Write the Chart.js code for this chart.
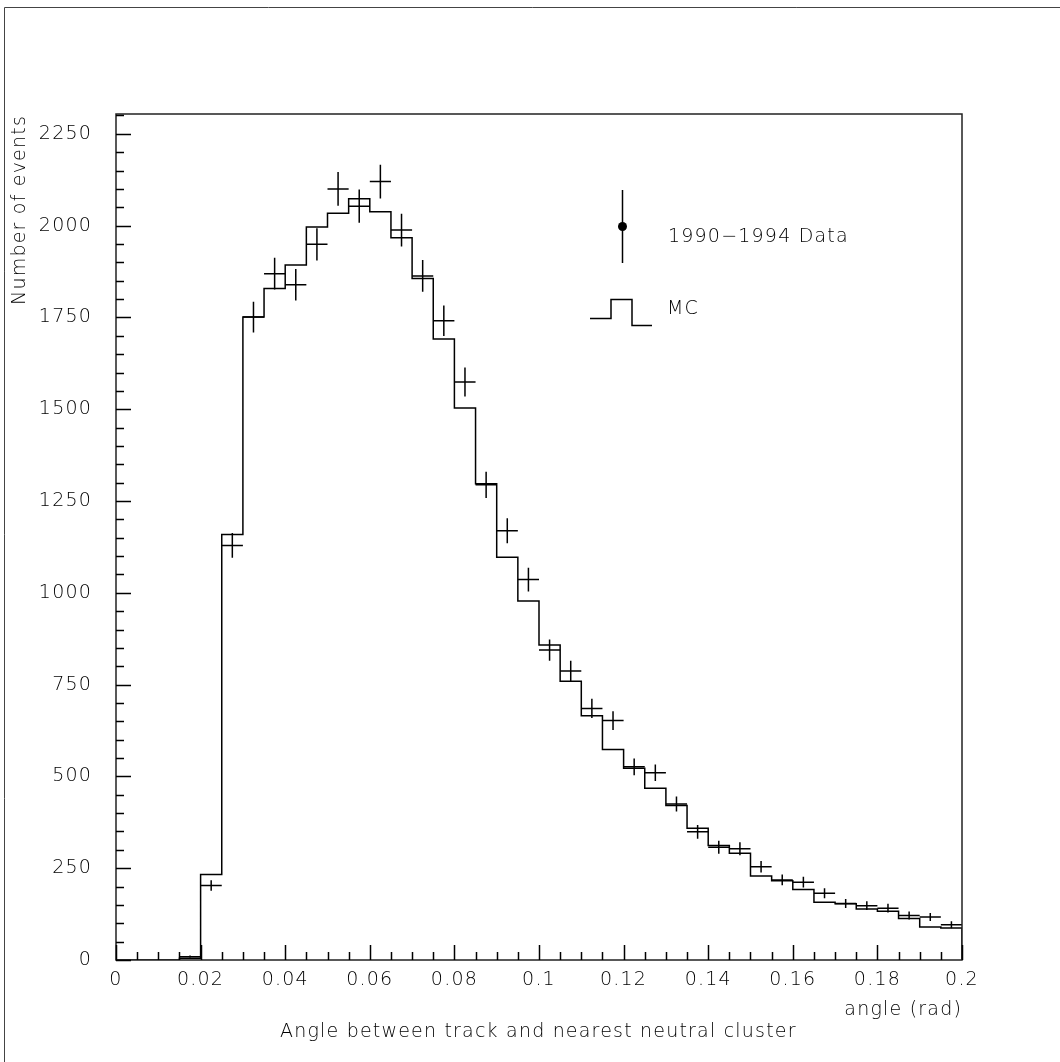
<!DOCTYPE html>
<html lang="en">
  <head>
    <meta charset="UTF-8" />
    <title>Angle between track and nearest neutral cluster</title>
    <style>
      html,
      body {
        margin: 0;
        padding: 0;
        background: #ffffff;
      }
      #chartBox {
        position: relative;
        width: 1060px;
        height: 1062px;
      }
    </style>
  </head>
  <body>
    <div id="chartBox">
      <canvas id="angleChart" width="1060" height="1062"></canvas>
    </div>

    <script src="https://cdn.jsdelivr.net/npm/chart.js@4"></script>
    <script>
      // Histogram binning (rad), 40 bins of 0.005
      const BIN_WIDTH = 0.005;
      const X_MIN = 0;
      const X_MAX = 0.2;
      const Y_MAX = 2304;

      const xTickValues = [0, 0.02, 0.04, 0.06, 0.08, 0.1, 0.12, 0.14, 0.16, 0.18, 0.2];
      const xTickLabels = ["0", "0.02", "0.04", "0.06", "0.08", "0.1", "0.12", "0.14", "0.16", "0.18", "0.2"];
      const yTickValues = [0, 250, 500, 750, 1000, 1250, 1500, 1750, 2000, 2250];
      const yTickLabels = ["0", "250", "500", "750", "1000", "1250", "1500", "1750", "2000", "2250"];

      // MC histogram contents, one per bin
      const mcCounts = [
        0, 0, 0, 5, 233, 1159, 1751, 1829, 1893, 1996,
        2034, 2073, 2038, 1967, 1856, 1691, 1503, 1297, 1097, 978,
        858, 759, 665, 573, 522, 468, 421, 359, 312, 291,
        229, 216, 192, 157, 153, 139, 133, 113, 90, 87,
      ];

      // 1990-1994 data, one per bin (null = empty)
      const dataCounts = [
        null, null, null, 9, 203, 1129, 1751, 1869, 1839, 1949,
        2100, 2053, 2120, 1988, 1863, 1741, 1574, 1294, 1169, 1036,
        844, 787, 685, 652, 526, 510, 425, 349, 307, 303,
        254, 218, 212, 182, 154, 148, 141, 121, 117, 96,
      ];

      const legendLabels = ["1990\u22121994 Data", "MC"];
      const xTitle = "angle (rad)";
      const yTitle = "Number of events";
      const plotCaption = "Angle between track and nearest neutral cluster";

      const FONT = "'DejaVu Sans', 'Liberation Sans', sans-serif";
      const TEXT_FONT = "300 19px " + FONT;
      const SPACING = "1.2px";

      // step histogram: left bin edges, then close at right edge down to 0
      const mcPoints = mcCounts.map((v, i) => ({ x: X_MIN + i * BIN_WIDTH, y: v }));
      mcPoints.push({ x: X_MAX, y: mcCounts[mcCounts.length - 1] });
      mcPoints.push({ x: X_MAX, y: 0 });

      const dataPoints = [];
      dataCounts.forEach((v, i) => {
        if (v !== null) dataPoints.push({ x: X_MIN + (i + 0.5) * BIN_WIDTH, y: v });
      });

      // frame, inward ticks, error crosses, legend, titles
      const pawStyle = {
        id: "pawStyle",
        beforeDraw(chart) {
          // wider letter spacing, closer to the old HIGZ font
          chart.ctx.letterSpacing = SPACING;
        },
        afterDatasetsDraw(chart) {
          const ctx = chart.ctx;
          const a = chart.chartArea;
          const xs = chart.scales.x;
          const ys = chart.scales.y;

          ctx.save();

          // outer page frame (top + left)
          ctx.strokeStyle = "#444";
          ctx.lineWidth = 1;
          ctx.beginPath();
          ctx.moveTo(4.5, 1062);
          ctx.lineTo(4.5, 7.5);
          ctx.lineTo(1060, 7.5);
          ctx.stroke();

          // data points with error bars
          ctx.strokeStyle = "#000";
          ctx.lineWidth = 1.5;
          ctx.beginPath();
          dataPoints.forEach((p) => {
            const err = Math.sqrt(p.y);
            const px = xs.getPixelForValue(p.x);
            const py = ys.getPixelForValue(p.y);
            ctx.moveTo(xs.getPixelForValue(p.x - BIN_WIDTH / 2), py);
            ctx.lineTo(xs.getPixelForValue(p.x + BIN_WIDTH / 2), py);
            ctx.moveTo(px, ys.getPixelForValue(Math.max(0, p.y - err)));
            ctx.lineTo(px, ys.getPixelForValue(p.y + err));
          });
          ctx.stroke();

          // plot box
          ctx.strokeStyle = "#222";
          ctx.lineWidth = 1.5;
          ctx.strokeRect(a.left, a.top, a.right - a.left, a.bottom - a.top);

          // x ticks (major 0.02, minor 0.005), pointing up
          ctx.strokeStyle = "#000";
          ctx.lineWidth = 1.5;
          ctx.beginPath();
          for (let k = 0; k <= 40; k++) {
            const px = Math.round(xs.getPixelForValue(k * BIN_WIDTH)) + 0.5;
            const len = k % 4 === 0 ? 15 : 8;
            ctx.moveTo(px, a.bottom);
            ctx.lineTo(px, a.bottom - len);
          }
          // y ticks (major 250, minor 50), pointing right
          for (let v = 0; v <= Y_MAX; v += 50) {
            const py = Math.round(ys.getPixelForValue(v)) + 0.5;
            const len = v % 250 === 0 ? 15 : 8;
            ctx.moveTo(a.left, py);
            ctx.lineTo(a.left + len, py);
          }
          ctx.stroke();

          // legend: data marker
          ctx.lineWidth = 1.5;
          ctx.beginPath();
          ctx.moveTo(622.5, 190);
          ctx.lineTo(622.5, 263);
          ctx.stroke();
          ctx.fillStyle = "#000";
          ctx.beginPath();
          ctx.arc(622.5, 226.5, 4.5, 0, Math.PI * 2);
          ctx.fill();
          // legend: MC step symbol
          ctx.beginPath();
          ctx.moveTo(590, 318.5);
          ctx.lineTo(611, 318.5);
          ctx.lineTo(611, 299.5);
          ctx.lineTo(632, 299.5);
          ctx.lineTo(632, 325.5);
          ctx.lineTo(652, 325.5);
          ctx.stroke();

          ctx.fillStyle = "#000";
          ctx.font = TEXT_FONT;
          ctx.letterSpacing = SPACING;
          ctx.textBaseline = "middle";
          ctx.textAlign = "left";
          ctx.fillText(legendLabels[0], 668, 237);
          ctx.fillText(legendLabels[1], 667, 309);

          // axis titles
          ctx.textAlign = "right";
          ctx.fillText(xTitle, 962, 1010);
          ctx.textAlign = "left";
          ctx.fillText(plotCaption, 280, 1032);

          ctx.translate(20, 115);
          ctx.rotate(-Math.PI / 2);
          ctx.textAlign = "right";
          ctx.fillText(yTitle, 0, 0);

          ctx.restore();
        },
      };

      new Chart(document.getElementById("angleChart"), {
        type: "scatter",
        data: {
          datasets: [
            {
              label: legendLabels[1],
              type: "line",
              data: mcPoints,
              stepped: "before",
              borderColor: "#000",
              borderWidth: 1.5,
              pointRadius: 0,
              fill: false,
            },
            {
              label: legendLabels[0],
              data: dataPoints,
              pointRadius: 0,
              borderColor: "#000",
              backgroundColor: "#000",
            },
          ],
        },
        options: {
          responsive: false,
          devicePixelRatio: 1,
          animation: false,
          layout: { padding: { left: 0, top: 114, right: 98, bottom: 0 } },
          plugins: {
            legend: { display: false },
            tooltip: { enabled: false },
          },
          scales: {
            x: {
              type: "linear",
              min: X_MIN,
              max: X_MAX,
              grid: { display: false, drawTicks: false },
              border: { display: false },
              afterBuildTicks: (s) => {
                s.ticks = xTickValues.map((v) => ({ value: v }));
              },
              afterFit: (s) => {
                s.height = 102;
              },
              ticks: {
                autoSkip: false,
                maxRotation: 0,
                padding: 9,
                color: "#000",
                font: { family: FONT, size: 19, weight: "300" },
                callback: (v, i) => xTickLabels[i],
              },
            },
            y: {
              min: 0,
              max: Y_MAX,
              grid: { display: false, drawTicks: false },
              border: { display: false },
              afterBuildTicks: (s) => {
                s.ticks = yTickValues.map((v) => ({ value: v }));
              },
              afterFit: (s) => {
                s.width = 116;
              },
              ticks: {
                padding: 24,
                color: "#000",
                font: { family: FONT, size: 19, weight: "300" },
                callback: (v, i) => yTickLabels[i],
              },
            },
          },
        },
        plugins: [pawStyle],
      });
    </script>
  </body>
</html>
